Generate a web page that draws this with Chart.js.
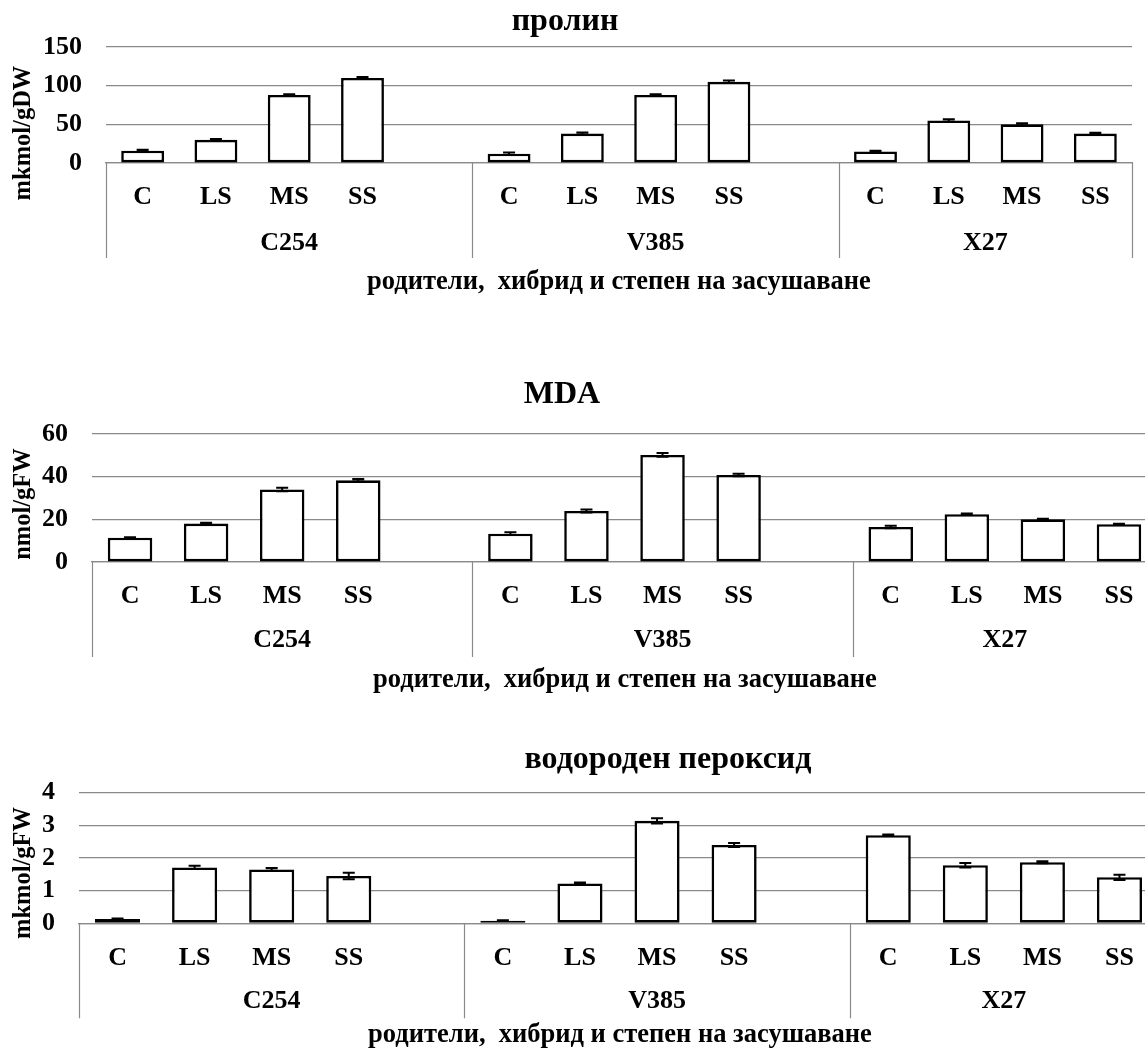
<!DOCTYPE html>
<html>
<head>
<meta charset="utf-8">
<script src="https://cdn.jsdelivr.net/npm/chart.js@4.4.1/dist/chart.umd.min.js"></script>
<style>
  html, body { margin:0; padding:0; background:#fff; width:1145px; height:1048px; overflow:hidden; }
  canvas { position:absolute; left:0; }
</style>
</head>
<body>
<canvas id="c1" width="1145" height="330" style="top:0px"></canvas>
<canvas id="c2" width="1170" height="370" style="top:330px"></canvas>
<canvas id="c3" width="1170" height="348" style="top:700px"></canvas>
<script>
// ---- data ----
const groups = ['C254', 'V385', 'X27'];
const stages = ['C', 'LS', 'MS', 'SS'];
const groupSlots = [5, 5, 4]; // category slots per group (incl. blank slot)

const prolin    = [16, 30, 88, 110,   12, 38, 88, 105,   15, 55, 50, 38];
const prolinErr = [1.0, 1.0, 1.0, 1.2, 1.5, 1.5, 1.0, 1.7, 1.0, 1.5, 1.5, 1.0];

const mda    = [11.4, 18.0, 34.0, 38.3,   13.3, 23.9, 50.2, 40.8,   16.4, 22.4, 20.0, 17.7];
const mdaErr = [0.2, 0.4, 0.8, 0.6,   0.6, 0.7, 0.9, 0.6,   0.6, 0.3, 0.3, 0.2];

const h2o2    = [0.13, 1.71, 1.65, 1.45,   0.08, 1.22, 3.14, 2.40,   2.70, 1.78, 1.87, 1.41];
const h2o2Err = [0.02, 0.05, 0.04, 0.10,   0.01, 0.03, 0.08, 0.06,   0.02, 0.07, 0.03, 0.08];

const xAxisTitle = 'родители,  хибрид и степен на засушаване';

// ---- build category table ----
function buildLabels() {
  const out = [];
  groups.forEach((g, gi) => {
    for (let s = 0; s < groupSlots[gi]; s++) out.push(s < stages.length ? stages[s] : '');
  });
  return out;
}
function expand(arr) {
  const out = []; let k = 0;
  groups.forEach((g, gi) => {
    for (let s = 0; s < groupSlots[gi]; s++) {
      if (s < stages.length) out.push(arr[k++]); else out.push(null);
    }
  });
  return out;
}

const FONT = "'Liberation Serif', 'Times New Roman', serif";
const GRAY = '#8a8a8a';

const annot = {
  id: 'annot',
  afterDatasetsDraw(chart, args, o) {
    const ctx = chart.ctx, xs = chart.scales.x, ys = chart.scales.y;
    const ds = chart.data.datasets[0];
    const meta = chart.getDatasetMeta(0);
    ctx.save();
    // error bars
    ctx.strokeStyle = '#000'; ctx.lineWidth = 2;
    meta.data.forEach((bar, i) => {
      const v = ds.data[i]; const e = ds.errors[i];
      if (v == null) return;
      const yt = ys.getPixelForValue(v + e), yb = ys.getPixelForValue(v - e);
      ctx.beginPath();
      ctx.moveTo(bar.x, yt); ctx.lineTo(bar.x, yb);
      ctx.moveTo(bar.x - 6, yt); ctx.lineTo(bar.x + 6, yt);
      ctx.moveTo(bar.x - 6, yb); ctx.lineTo(bar.x + 6, yb);
      ctx.stroke();
    });
    // group dividers and labels
    const zeroY = ys.getPixelForValue(0);
    const ca = chart.chartArea;
    ctx.strokeStyle = GRAY; ctx.lineWidth = 1.2;
    ctx.fillStyle = '#000';
    ctx.font = 'bold 26px ' + FONT;
    ctx.textAlign = 'center'; ctx.textBaseline = 'middle';
    let start = 0;
    const n = chart.data.labels.length;
    groups.forEach((g, gi) => {
      const first = start, last = start + groupSlots[gi] - 1;
      const left = first === 0 ? ca.left : (xs.getPixelForValue(first - 1) + xs.getPixelForValue(first)) / 2;
      const right = last === n - 1 ? ca.right : (xs.getPixelForValue(last) + xs.getPixelForValue(last + 1)) / 2;
      ctx.beginPath();
      ctx.moveTo(Math.round(left) + 0.5, zeroY); ctx.lineTo(Math.round(left) + 0.5, zeroY + o.dividerLen);
      if (last === n - 1) { ctx.moveTo(Math.round(right) + 0.5, zeroY); ctx.lineTo(Math.round(right) + 0.5, zeroY + o.dividerLen); }
      ctx.stroke();
      ctx.fillText(g, (left + right) / 2, zeroY + o.groupDy);
      start = last + 1;
    });
    // chart title
    ctx.font = 'bold ' + o.titleSize + 'px ' + FONT;
    ctx.fillText(o.title, o.titleX, o.titleY);
    // x axis title
    ctx.font = 'bold 26.5px ' + FONT;
    ctx.fillText(xAxisTitle, o.xTitleX, o.xTitleY);
    // y axis title
    ctx.translate(o.yTitleX, o.yTitleY);
    ctx.rotate(-Math.PI / 2);
    ctx.font = 'bold 24.5px ' + FONT;
    ctx.fillText(o.yTitle, 0, 0);
    ctx.restore();
  }
};

function makeChart(id, values, errors, cfg) {
  return new Chart(document.getElementById(id), {
    type: 'bar',
    data: {
      labels: buildLabels(),
      datasets: [{
        data: expand(values),
        errors: expand(errors),
        backgroundColor: '#ffffff',
        borderColor: '#000000',
        borderWidth: 2.6,
        borderSkipped: false,
        barPercentage: 0.585,
        categoryPercentage: 1.0
      }]
    },
    options: {
      responsive: false,
      animation: false,
      devicePixelRatio: 1,
      layout: { padding: { top: cfg.padTop, left: 0, right: cfg.padRight, bottom: 0 } },
      plugins: {
        legend: { display: false },
        tooltip: { enabled: false },
        annot: cfg.annot
      },
      scales: {
        x: {
          grid: { display: false, drawTicks: false },
          border: { display: true, color: GRAY, width: 1.2 },
          ticks: { color: '#000', font: { family: FONT, size: 26, weight: 'bold' }, padding: 19, maxRotation: 0, autoSkip: false },
          afterFit(s) { s.height = cfg.xHeight; }
        },
        y: {
          min: 0, max: cfg.max,
          grid: { color: GRAY, lineWidth: 1.2, drawTicks: false },
          border: { display: false },
          ticks: { stepSize: cfg.step, autoSkip: false, color: '#000', font: { family: FONT, size: 26, weight: 'bold' }, padding: 24 },
          afterFit(s) { s.width = cfg.yWidth; }
        }
      }
    },
    plugins: [annot]
  });
}

makeChart('c1', prolin, prolinErr, {
  max: 150, step: 50, padTop: 47, padRight: 13, yWidth: 106, xHeight: 167,
  annot: { title: 'пролин', titleSize: 32, titleX: 565, titleY: 22, xTitleX: 619, xTitleY: 282,
           yTitle: 'mkmol/gDW', yTitleX: 24, yTitleY: 133, groupDy: 80, dividerLen: 95 }
});
makeChart('c2', mda, mdaErr, {
  max: 60, step: 20, padTop: 104, padRight: 13, yWidth: 92, xHeight: 138,
  annot: { title: 'MDA', titleSize: 32, titleX: 562, titleY: 64.5, xTitleX: 625, xTitleY: 350,
           yTitle: 'nmol/gFW', yTitleX: 24, yTitleY: 174, groupDy: 78, dividerLen: 95 }
});
makeChart('c3', h2o2, h2o2Err, {
  max: 4, step: 1, padTop: 92.7, padRight: 12, yWidth: 79, xHeight: 124.7,
  annot: { title: 'водороден пероксид', titleSize: 32, titleX: 668, titleY: 60, xTitleX: 620, xTitleY: 335,
           yTitle: 'mkmol/gFW', yTitleX: 24, yTitleY: 173, groupDy: 78, dividerLen: 95 }
});
</script>
</body>
</html>
